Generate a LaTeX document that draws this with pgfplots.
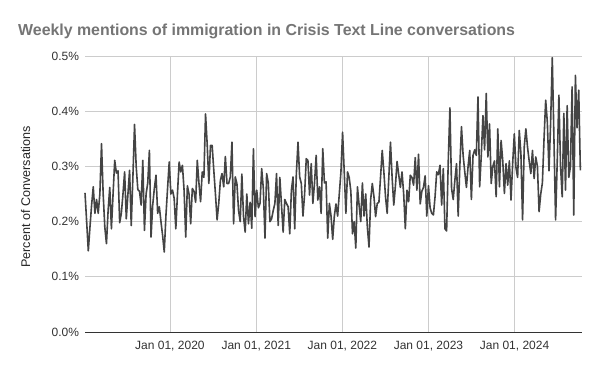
\documentclass[border=0pt]{standalone}
\usepackage{pgfplots}
\pgfplotsset{compat=1.18}
\usepackage{pgfplotstable}
\usepackage{fontspec}
\setmainfont{Liberation Sans}
\definecolor{titlegray}{HTML}{757575}
\definecolor{linegray}{HTML}{444444}
\definecolor{gridgray}{HTML}{CCCCCC}
\definecolor{labelgray}{HTML}{333333}

\pgfplotstableread{
w v
0 0.252
1 0.200
2 0.147
3 0.190
4 0.230
5 0.263
6 0.215
7 0.240
8 0.215
9 0.250
10 0.341
11 0.250
12 0.190
13 0.160
14 0.220
15 0.262
16 0.187
17 0.250
18 0.311
19 0.288
20 0.292
21 0.198
22 0.215
23 0.250
24 0.290
25 0.205
26 0.250
27 0.293
28 0.193
29 0.280
30 0.376
31 0.300
32 0.258
33 0.255
34 0.230
35 0.311
36 0.184
37 0.250
38 0.270
39 0.329
40 0.172
41 0.230
42 0.260
43 0.284
44 0.215
45 0.227
46 0.200
47 0.175
48 0.145
49 0.210
50 0.260
51 0.308
52 0.250
53 0.257
54 0.242
55 0.187
56 0.250
57 0.308
58 0.290
59 0.302
60 0.257
61 0.172
62 0.265
63 0.250
64 0.196
65 0.260
66 0.255
67 0.235
68 0.311
69 0.270
70 0.236
71 0.290
72 0.280
73 0.395
74 0.340
75 0.269
76 0.338
77 0.338
78 0.293
79 0.250
80 0.203
81 0.233
82 0.275
83 0.287
84 0.263
85 0.318
86 0.269
87 0.269
88 0.281
89 0.344
90 0.196
91 0.281
92 0.269
93 0.220
94 0.200
95 0.286
96 0.209
97 0.181
98 0.250
99 0.196
100 0.235
101 0.188
102 0.332
103 0.209
104 0.257
105 0.225
106 0.233
107 0.296
108 0.260
109 0.170
110 0.287
111 0.270
112 0.200
113 0.205
114 0.220
115 0.233
116 0.287
117 0.193
118 0.280
119 0.230
120 0.181
121 0.240
122 0.233
123 0.227
124 0.178
125 0.257
126 0.281
127 0.187
128 0.287
129 0.344
130 0.281
131 0.269
132 0.210
133 0.250
134 0.314
135 0.311
136 0.248
137 0.305
138 0.233
139 0.270
140 0.320
141 0.239
142 0.263
143 0.215
144 0.332
145 0.270
146 0.272
147 0.170
148 0.233
149 0.210
150 0.168
151 0.210
152 0.232
153 0.210
154 0.250
155 0.290
156 0.362
157 0.290
158 0.215
159 0.290
160 0.280
161 0.255
162 0.178
163 0.200
164 0.152
165 0.263
166 0.230
167 0.200
168 0.270
169 0.210
170 0.250
171 0.190
172 0.154
173 0.240
174 0.269
175 0.245
176 0.209
177 0.233
178 0.235
179 0.281
180 0.329
181 0.290
182 0.245
183 0.215
184 0.280
185 0.344
186 0.280
187 0.230
188 0.265
189 0.309
190 0.285
191 0.262
192 0.290
193 0.250
194 0.187
195 0.257
196 0.236
197 0.284
198 0.280
199 0.266
200 0.316
201 0.257
202 0.322
203 0.232
204 0.255
205 0.262
206 0.283
207 0.210
208 0.265
209 0.225
210 0.215
211 0.212
212 0.245
213 0.290
214 0.285
215 0.302
216 0.230
217 0.296
218 0.187
219 0.183
220 0.310
221 0.406
222 0.260
223 0.240
224 0.275
225 0.305
226 0.210
227 0.300
228 0.372
229 0.320
230 0.290
231 0.262
232 0.300
233 0.329
234 0.240
235 0.320
236 0.330
237 0.320
238 0.426
239 0.263
240 0.320
241 0.392
242 0.330
243 0.432
244 0.317
245 0.377
246 0.269
247 0.300
248 0.310
249 0.245
250 0.368
251 0.263
252 0.347
253 0.310
254 0.251
255 0.305
256 0.266
257 0.310
258 0.239
259 0.305
260 0.359
261 0.298
262 0.280
263 0.365
264 0.323
265 0.203
266 0.335
267 0.368
268 0.335
269 0.310
270 0.287
271 0.329
272 0.278
273 0.317
274 0.300
275 0.218
276 0.250
277 0.270
278 0.350
279 0.420
280 0.380
281 0.292
282 0.380
283 0.497
284 0.350
285 0.203
286 0.310
287 0.429
288 0.300
289 0.245
290 0.396
291 0.257
292 0.410
293 0.280
294 0.300
295 0.444
296 0.212
297 0.465
298 0.370
299 0.438
300 0.293
}\datatable

\begin{document}
\begin{tikzpicture}[x=1bp,y=1bp]
\fill[white] (0,0) rectangle (600,371);
\useasboundingbox (0,0) rectangle (600,371);
\node[anchor=base west, inner sep=0, text=titlegray, font=\fontsize{15.9bp}{19bp}\selectfont\bfseries] at (18,336) {Weekly mentions of immigration in Crisis Text Line conversations};
\node[rotate=90, inner sep=0, text=black!85, font=\fontsize{12.6bp}{15bp}\selectfont] at (25.5,174) {Percent of Conversations};
\begin{axis}[
  at={(85bp,39bp)}, anchor=south west,
  scale only axis, width=497bp, height=276bp,
  xmin=0, xmax=301, ymin=0, ymax=0.5,
  axis line style={draw=none},
  major tick length=0pt,
  grid=major,
  grid style={draw=gridgray, line width=0.8bp},
  xtick={51.43,103.71,155.86,208.0,260.14},
  xticklabels={{Jan 01, 2020},{Jan 01, 2021},{Jan 01, 2022},{Jan 01, 2023},{Jan 01, 2024}},
  ytick={0,0.1,0.2,0.3,0.4,0.5},
  yticklabels={0.0\%,0.1\%,0.2\%,0.3\%,0.4\%,0.5\%},
  tick label style={font=\fontsize{12bp}{14bp}\selectfont, text=labelgray},
  xticklabel style={yshift=-6bp},
  yticklabel style={xshift=-2.5bp},
  clip=false,
]
\addplot[linegray, line width=1.6bp, line join=round, mark=none] table[x=w, y=v] {\datatable};
\draw[labelgray, line width=0.9bp] (axis cs:0,0) -- (axis cs:301,0);
\end{axis}
\end{tikzpicture}
\end{document}
